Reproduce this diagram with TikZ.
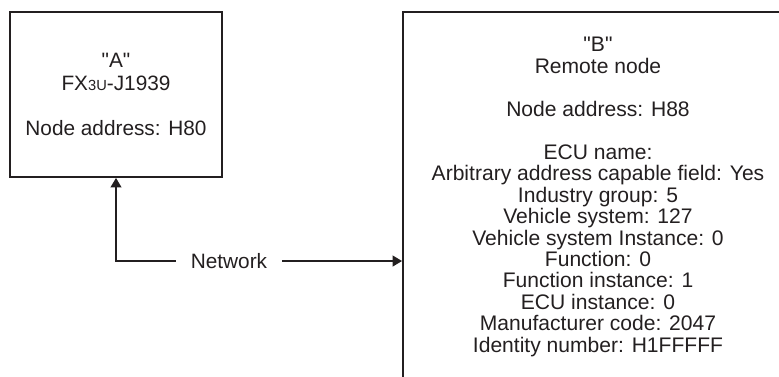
\documentclass[tikz,border=0pt]{standalone}
\usepackage{fontspec}
\setmainfont{Liberation Sans}
\usetikzlibrary{arrows.meta}
\definecolor{ink}{RGB}{35,31,32}
\begin{document}
\begin{tikzpicture}[x=.75pt,y=-.75pt,line join=miter,
    box/.style={draw=ink,line width=1.4pt,align=center,text=ink,inner sep=0pt},
    conn/.style={draw=ink,line width=1.2pt,-{Triangle[length=7pt,width=8pt]}}]
    \useasboundingbox (0,0) rectangle (779,376);
    \clip (0,0) rectangle (779,376);
    \node[box,minimum width=159pt,minimum height=123.75pt,font=\fontsize{15.6}{17}\selectfont] (A) at (116,94.5)
        {\textquotedbl A\textquotedbl\\FX{\fontsize{11}{11}\selectfont 3U}-J1939\\[17pt]Node address: H80};
    \node[box,minimum width=292.5pt,minimum height=277.5pt,font=\fontsize{15.8}{16.1}\selectfont] (B) at (598,197)
        {\textquotedbl B\textquotedbl\\Remote node\\[16.1pt]Node address: H88\\[16.1pt]ECU name:\\Arbitrary address capable field: Yes\\
        Industry group: 5\\Vehicle system: 127\\Vehicle system Instance: 0\\Function: 0\\Function instance: 1\\
        ECU instance: 0\\Manufacturer code: 2047\\Identity number: H1FFFFF};
    \node[text=ink,font=\fontsize{15.6}{16}\selectfont,inner xsep=11pt,inner ysep=0pt] (net) at (229,261) {Network};
    \coordinate (corner) at (A.south |- net);
    \draw[conn] (net.west) -- (corner) -- (A.south);
    \draw[conn] (net.east) -- (net.east -| B.west);
\end{tikzpicture}
\end{document}
